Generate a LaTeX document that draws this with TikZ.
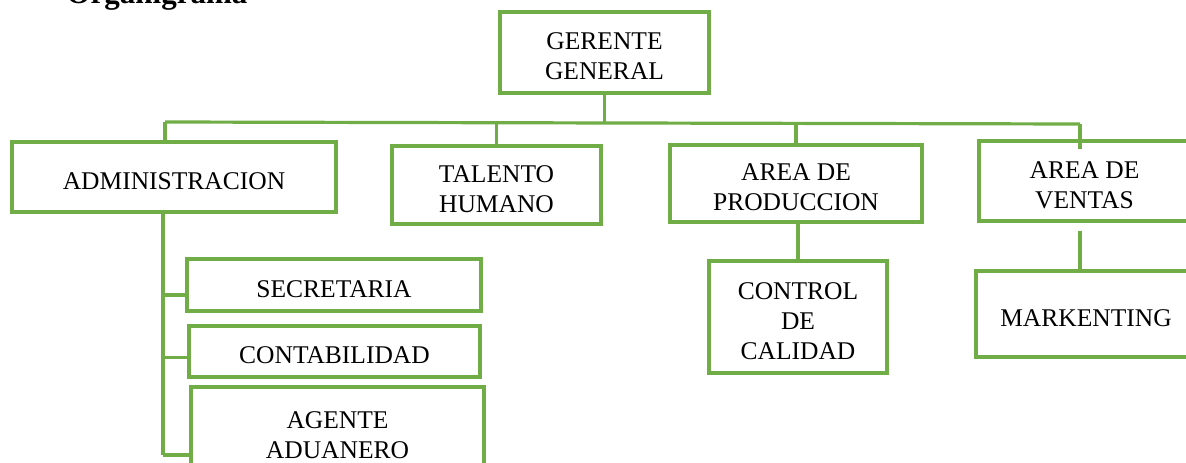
\documentclass[tikz,border=0pt]{standalone}
\usepackage{fontspec}
\setmainfont{Liberation Serif}
\usepackage{xcolor}
\usepackage{tikz}
\definecolor{verde}{RGB}{112,173,71}
\newcommand{\puntal}{\rule{0pt}{25pt}}

\begin{document}
\begin{tikzpicture}[x=1pt,y=-1pt]
		\tikzstyle{every node}=[font=\fontsize{25.5}{30}\selectfont]
		\tikzstyle{caja}=[draw=verde, line width=3.2pt, align=center, inner sep=0pt]
		\tikzstyle{linea}=[draw=verde, line width=3.2pt]

		\useasboundingbox (0,0) rectangle (1186,463);
		\clip (0,0) rectangle (1186,463);

		\node [anchor=base west, font=\fontsize{31}{36}\selectfont\bfseries] (titulo) at (63,4) {Organigrama};

		\node [caja, minimum width=209, minimum height=81] (gerente) at (604.5,52.5) {\puntal GERENTE\\GENERAL};
		\node [caja, minimum width=324, minimum height=70] (admin) at (174,177) {\puntal ADMINISTRACION};
		\node [caja, minimum width=209, minimum height=78] (talento) at (496.5,185) {\puntal TALENTO\\HUMANO};
		\node [caja, minimum width=252, minimum height=77] (produccion) at (796,183.5) {\puntal AREA DE\\PRODUCCION};
		\node [caja, minimum width=211, minimum height=80] (ventas) at (1084.5,181) {\puntal AREA DE\\VENTAS};
		\node [caja, minimum width=294, minimum height=52] (secretaria) at (334,285) {\puntal SECRETARIA};
		\node [caja, minimum width=291, minimum height=51] (contabilidad) at (334.5,351.5) {\puntal CONTABILIDAD};
		\node [caja, minimum width=293, minimum height=88] (agente) at (337.5,431) {\puntal AGENTE\\ADUANERO};
		\node [caja, minimum width=178, minimum height=112] (control) at (798,317) {\puntal CONTROL\\DE\\CALIDAD};
		\node [caja, minimum width=220, minimum height=86] (marketing) at (1086,314) {\puntal MARKENTING};

		\coordinate (busL) at (165,122);
		\coordinate (busR) at (1080,124);
		\coordinate (tronco) at (163,455);

		\draw [linea] (gerente.south) -- (gerente.south |- busL);
		\draw [linea] (busL) -- (busR);
		\draw [linea] (busL) -- (busL |- admin.north);
		\draw [linea] (talento.north) -- (talento.north |- busL);
		\draw [linea] (produccion.north) -- (produccion.north |- busL);
		\draw [linea] (busR) -- ([yshift=-10pt]busR |- ventas.north);

		\draw [linea] (produccion.south -| control.north) -- (control.north);
		\draw [linea] ([yshift=-8pt]ventas.south -| busR) -- (marketing.north -| busR);

		\draw [linea] (admin.south -| tronco) -- (tronco);
		\draw [linea] ([yshift=-10pt]tronco |- secretaria.west) -- ([yshift=-10pt]secretaria.west);
		\draw [linea] ([yshift=-6pt]tronco |- contabilidad.west) -- ([yshift=-6pt]contabilidad.west);
		\draw [linea] (tronco) -- (agente.west |- tronco);

	\end{tikzpicture}
\end{document}
